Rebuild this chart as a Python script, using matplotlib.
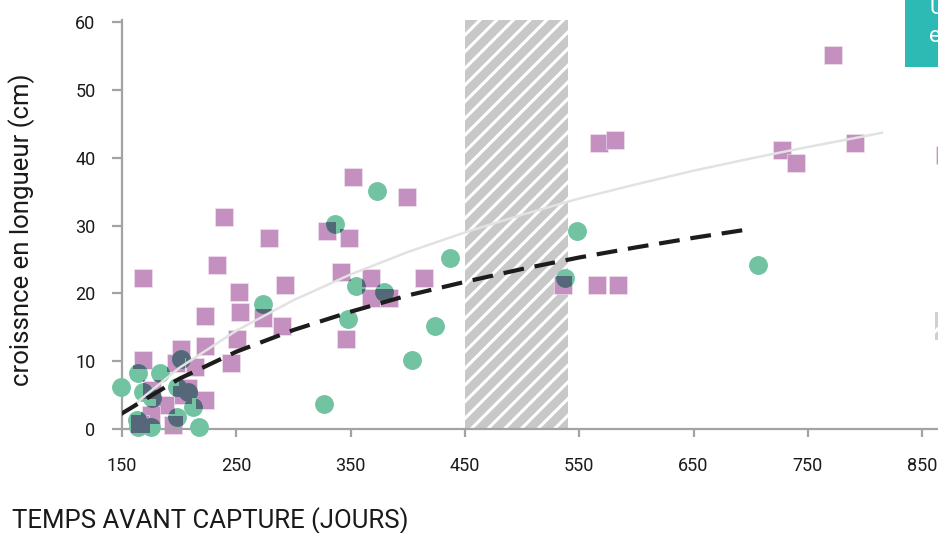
import numpy as np
import matplotlib
matplotlib.use('Agg')
import matplotlib.pyplot as plt
from matplotlib.patches import Rectangle
from matplotlib.path import Path
from matplotlib.transforms import IdentityTransform

#### data ####
# purple squares
sq_days = [168, 239, 233, 279, 252, 253, 293, 223, 273, 290, 251, 245, 223, 202, 168,
           197, 214, 208, 223, 195, 188, 175, 166, 176, 203,
           329, 352, 349, 342, 346, 368, 368, 384, 399, 414,
           536, 566, 584, 567, 581, 772, 727, 740, 791, 870]
sq_growth = [22.3, 31.3, 24.2, 28.2, 20.2, 17.3, 21.2, 16.7, 16.4, 15.2, 13.3, 9.7, 12.2, 11.8, 10.2,
             9.7, 9.1, 6.0, 4.3, 0.6, 3.5, 2.1, 0.7, 5.8, 5.0,
             29.2, 37.2, 28.2, 23.2, 13.3, 22.3, 19.3, 19.3, 34.2, 22.3,
             21.2, 21.2, 21.2, 42.2, 42.6, 55.2, 41.2, 39.2, 42.2, 40.4]

# green circles
ci_days = [149, 164, 183, 202, 168, 176, 198, 208, 212, 198, 217, 163, 164, 175,
           273, 327, 336, 373, 355, 348, 379, 404, 424, 437, 538, 548, 706, 875]
ci_growth = [6.2, 8.3, 8.3, 10.3, 5.5, 4.6, 6.2, 5.5, 3.2, 1.8, 0.3, 1.3, 0.3, 0.3,
             18.4, 3.7, 30.2, 35.1, 21.1, 16.2, 20.2, 10.2, 15.2, 25.2, 22.3, 29.2, 24.2, 27.4]

# light grey trend (squares)
trend_days = [160, 200, 250, 300, 350, 400, 450, 500, 550, 600, 650, 700, 750, 800, 815]
trend_vals = [3.5, 9.0, 14.5, 19.0, 22.8, 26.1, 29.0, 31.6, 34.0, 36.1, 38.1, 39.9, 41.6, 43.2, 43.7]

# black dashed trend (circles)
dash_days = [148, 200, 250, 300, 350, 400, 450, 500, 550, 600, 650, 700]
dash_vals = [2.1, 7.4, 11.4, 14.6, 17.3, 19.7, 21.7, 23.6, 25.3, 26.8, 28.2, 29.5]

# hatched period
band = (450, 540)

x_ticks = [150, 250, 350, 450, 550, 650, 750, 850]
y_ticks = [0, 10, 20, 30, 40, 50, 60]

purple = '#c490c0'
green = '#72c3a2'
dark = '#55687a'
axis_grey = '#a3a3a3'

plt.rcParams['font.family'] = ['Roboto', 'DejaVu Sans']
plt.rcParams['hatch.linewidth'] = 2.2

W, H = 938, 533
fig = plt.figure(figsize=(W / 100, H / 100), dpi=100)
ax = fig.add_axes([122 / W, (533 - 429) / H, (956.4 - 122) / W, 408.8 / H])
ax.set_xlim(150, 880)
ax.set_ylim(0, 60.3)

# hatched band
ax.axvspan(band[0], band[1], facecolor='#c8c8c8', edgecolor='white', hatch='//', linewidth=0, zorder=1)

msize = 176
ax.scatter(sq_days, sq_growth, s=msize, marker='s', color=purple, edgecolors='#f3e6f2',
           linewidths=0.4, zorder=2, clip_on=False)
ax.scatter(ci_days, ci_growth, s=msize * 1.05, marker='o', color=green, linewidths=0,
           zorder=3, clip_on=False)

# circles darken where they sit over squares
half = np.sqrt(msize) / 72 * 100 / 2
centres = ax.transData.transform(np.column_stack([sq_days, sq_growth]))
for cx, cy in centres:
    sq_path = Path([(cx - half, cy - half), (cx + half, cy - half), (cx + half, cy + half),
                    (cx - half, cy + half), (cx - half, cy - half)],
                   [Path.MOVETO, Path.LINETO, Path.LINETO, Path.LINETO, Path.CLOSEPOLY])
    dk = ax.scatter(ci_days, ci_growth, s=msize * 1.05, marker='o', color=dark, linewidths=0,
                    zorder=3.5)
    dk.set_clip_path(sq_path, IdentityTransform())

ax.plot(trend_days, trend_vals, color='#e2e2e2', lw=1.8, zorder=4)
ax.plot(dash_days, dash_vals, color='#1c1c1c', lw=3, dashes=(5, 2.6), zorder=5,
        solid_capstyle='butt')

# axes styling
for s in ['top', 'right']:
    ax.spines[s].set_visible(False)
for s in ['left', 'bottom']:
    ax.spines[s].set_color(axis_grey)
    ax.spines[s].set_linewidth(1.6)
ax.set_xticks(x_ticks)
ax.set_yticks(y_ticks)
ax.tick_params(axis='x', colors=axis_grey, length=6, width=1.6, pad=14, labelsize=13, labelcolor='#1a1a1a')
ax.tick_params(axis='y', colors=axis_grey, length=7, width=1.6, pad=12, labelsize=13, labelcolor='#1a1a1a')

fig.text(22 / W, 1 - 230 / H, 'croissnce en longueur (cm)', rotation=90, ha='center', va='center',
         fontsize=18.5, color='#1a1a1a')
fig.text(12 / W, 1 - 521 / H, 'TEMPS AVANT CAPTURE (JOURS)', ha='left', va='center',
         fontsize=18.5, color='#1a1a1a')

# teal box cut at the right edge
fig.patches.append(Rectangle((905 / W, 1 - 67 / H), 60 / W, 67 / H, transform=fig.transFigure,
                             facecolor='#2db9b4', edgecolor='none'))
fig.text(929 / W, 1 - 8 / H, 'U', color='white', fontsize=16, ha='left', va='center')
fig.text(929 / W, 1 - 37 / H, 'e', color='white', fontsize=16, ha='left', va='center')

# grey hatched swatch peeking at the right edge
fig.patches.append(Rectangle((935 / W, 1 - 340 / H), 30 / W, 28 / H, transform=fig.transFigure,
                             facecolor='#d0d0d0', edgecolor='white', hatch='/', linewidth=0))

fig.savefig('out.png', dpi=100)
